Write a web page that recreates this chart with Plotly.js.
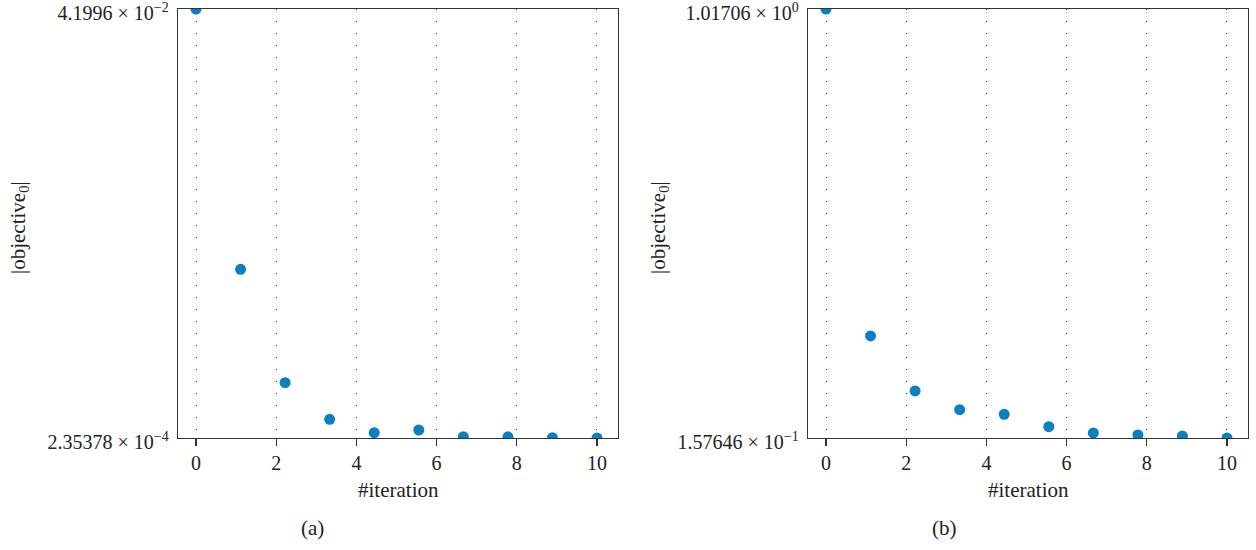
<!DOCTYPE html>
<html>
<head>
<meta charset="utf-8">
<script src="https://cdn.plot.ly/plotly-3.0.1.min.js"></script>
<style>html,body{margin:0;padding:0;background:#fff;}#chart{width:1256px;height:550px;}</style>
</head>
<body>
<div id="chart"></div>
<script>
// Data
const iterations = [0, 1.111, 2.222, 3.333, 4.444, 5.556, 6.667, 7.778, 8.889, 10];
const objectiveA = [0.041996, 0.016658, 0.005619, 0.002056, 0.000751, 0.001014, 0.000362, 0.00035, 0.000265, 0.000235378];
const objectiveB = [1.01706, 0.3622, 0.2519, 0.2144, 0.2050, 0.1803, 0.1677, 0.1637, 0.1617, 0.157646];
const yTicksA = [0.000235378, 0.041996];
const yTickTextA = ['2.35378 × 10<sup>−4</sup>', '4.1996 × 10<sup>−2</sup>'];
const yTicksB = [0.157646, 1.01706];
const yTickTextB = ['1.57646 × 10<sup>−1</sup>', '1.01706 × 10<sup>0</sup>'];
const xTicks = [0, 2, 4, 6, 8, 10];
const panelLabels = ['(a)', '(b)'];
const xTitle = '#iteration';
const yTitle = '|objective<sub>0</sub>|';

const FONT = '"Liberation Serif", "Times New Roman", serif';
const TXT = '#222';
const BLUE = '#0a80c2';
const FS = 20;
const FT = 21;

const marker = {color: BLUE, size: 11};
const traces = [
  {x: iterations, y: objectiveA, type: 'scatter', mode: 'markers', marker: marker, xaxis: 'x', yaxis: 'y', cliponaxis: true, showlegend: false},
  {x: iterations, y: objectiveB, type: 'scatter', mode: 'markers', marker: marker, xaxis: 'x2', yaxis: 'y2', cliponaxis: true, showlegend: false}
];

function xax(domain, anchor) {
  return {
    domain: domain, anchor: anchor, range: [-0.449, 10.524],
    tickvals: xTicks, ticktext: xTicks.map(String),
    ticks: 'outside', ticklen: 7, tickwidth: 1.2, tickcolor: '#333',
    showline: true, mirror: true, linecolor: '#333', linewidth: 1.3,
    showgrid: true, gridcolor: '#333', gridwidth: 1, griddash: '1px,11px',
    zeroline: false, automargin: false, ticklabeloverflow: 'allow',
    tickfont: {family: FONT, size: FS, color: TXT}
  };
}
function yax(domain, anchor, vals, text) {
  return {
    domain: domain, anchor: anchor, range: [vals[0], vals[1]],
    tickvals: vals, ticktext: text, ticks: '', ticklabelstandoff: 4, ticklabelshift: 4,
    showline: true, mirror: true, linecolor: '#333', linewidth: 1.3,
    showgrid: false, zeroline: false, automargin: false, ticklabeloverflow: 'allow',
    tickfont: {family: FONT, size: FS, color: TXT}
  };
}

function note(text, x, y, angle) {
  return {text: text, xref: 'paper', yref: 'paper', x: x/1256, y: 1 - y/550, showarrow: false,
    xanchor: 'center', yanchor: 'middle', textangle: angle || 0,
    font: {family: FONT, size: FT, color: TXT}};
}

const yDom = [1 - 438/550, 1 - 9/550];
const layout = {
  width: 1256, height: 550,
  margin: {l: 0, r: 0, t: 0, b: 0},
  paper_bgcolor: '#fff', plot_bgcolor: '#fff',
  font: {family: FONT, color: TXT},
  xaxis: xax([178/1256, 618/1256], 'y'),
  yaxis: yax(yDom, 'x', yTicksA, yTickTextA),
  xaxis2: xax([808/1256, 1248/1256], 'y2'),
  yaxis2: yax(yDom, 'x2', yTicksB, yTickTextB),
  annotations: [
    note(xTitle, 398, 490),
    note(xTitle, 1028, 490),
    note(yTitle, 19, 228, -90),
    note(yTitle, 659, 228, -90),
    note(panelLabels[0], 312, 528),
    note(panelLabels[1], 944, 528)
  ]
};

Plotly.newPlot('chart', traces, layout, {displayModeBar: false, staticPlot: true});
</script>
</body>
</html>
